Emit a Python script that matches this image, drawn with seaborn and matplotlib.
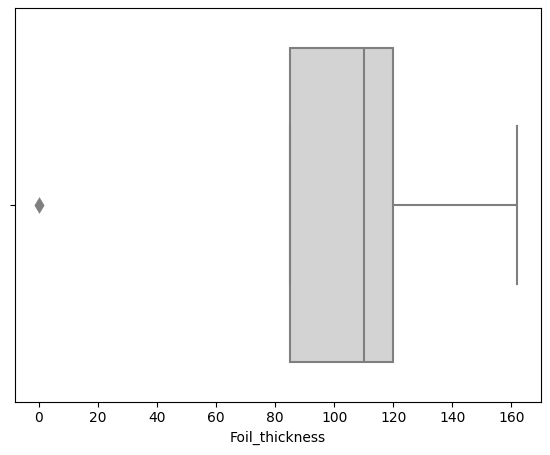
import matplotlib
matplotlib.use("Agg")
import matplotlib.pyplot as plt
import seaborn as sns
import pandas as pd

foil_thickness = [0, 85, 85, 95, 110, 115, 120, 140, 162]

df = pd.DataFrame({"Foil_thickness": foil_thickness})

fig, ax = plt.subplots(figsize=(5.5, 4.55), dpi=100)
fig.subplots_adjust(left=0.027, right=0.984, top=0.982, bottom=0.117)

sns.boxplot(data=df, x="Foil_thickness", color="lightgray", linecolor="gray",
            linewidth=1.5, width=0.8,
            flierprops=dict(marker="d", markerfacecolor="gray",
                            markeredgecolor="gray", markersize=5,
                            markeredgewidth=2.5),
            ax=ax)

ax.set_xticks([0, 20, 40, 60, 80, 100, 120, 140, 160])
ax.set_xlim(-8.1, 170.1)
ax.set_yticks([0])
ax.set_yticklabels([""])

fig.savefig("out.png", dpi=100)
